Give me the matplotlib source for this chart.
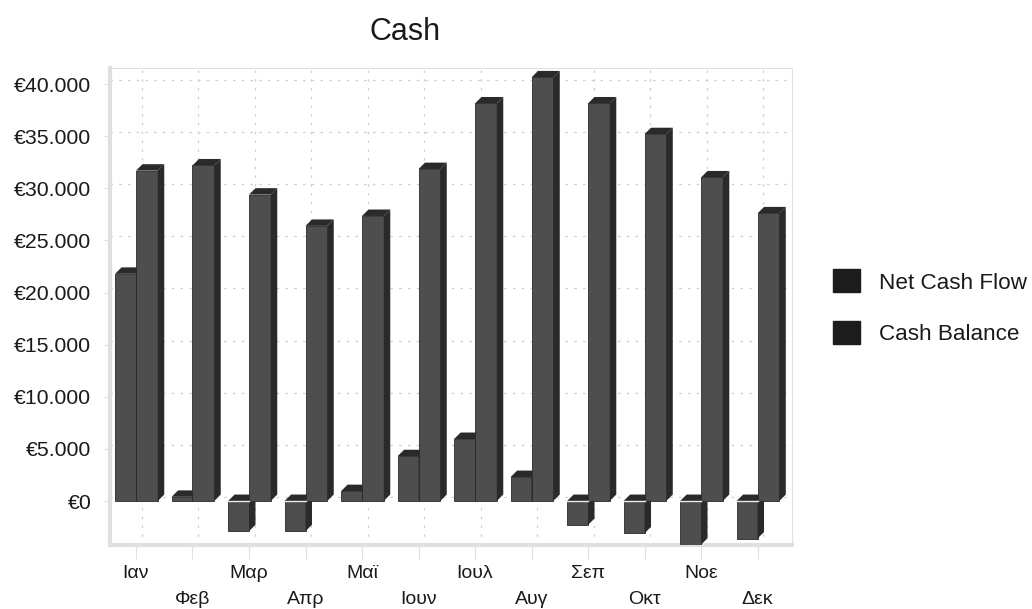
import matplotlib
matplotlib.use("Agg")
from matplotlib import pyplot as plt
from matplotlib.patches import Patch

plt.rcParams['font.family'] = ['Liberation Sans', 'DejaVu Sans']

months = ['Ιαν', 'Φεβ', 'Μαρ', 'Απρ', 'Μαϊ', 'Ιουν', 'Ιουλ', 'Αυγ', 'Σεπ', 'Οκτ', 'Νοε', 'Δεκ']
net_cash_flow = [21800, 400, -2900, -2900, 950, 4300, 5950, 2300, -2300, -3100, -4200, -3600]
cash_balance = [31700, 32200, 29400, 26400, 27350, 31850, 38150, 40650, 38150, 35200, 31050, 27600]
y_ticks = [0, 5000, 10000, 15000, 20000, 25000, 30000, 35000, 40000]
y_tick_labels = ['€0', '€5.000', '€10.000', '€15.000', '€20.000', '€25.000', '€30.000', '€35.000', '€40.000']
series_names = ['Net Cash Flow', 'Cash Balance']

FRONT = '#4e4e4e'
SIDE = '#2a2a2a'
EDGE = '#2a2a2a'
GRID = '#cfcfcf'
WALL = '#e0e0e0'

# one category is 56.5 px, one euro is 0.0104 px
BAR_W = 0.37
DEPTH_X = 0.115
DEPTH_Y = 620


def bar3d(ax, x, value, width):
    # front face, then the side and the top sheared by the depth
    ax.bar(x, value, width, align='edge', color=FRONT, edgecolor=EDGE, linewidth=0.6, zorder=3)
    right = x + width
    ax.fill([right, right + DEPTH_X, right + DEPTH_X, right],
            [0, DEPTH_Y, value + DEPTH_Y, value], color=SIDE, linewidth=0, zorder=3)
    top = max(value, 0)
    ax.fill([x, x + DEPTH_X, right + DEPTH_X, right],
            [top, top + DEPTH_Y, top + DEPTH_Y, top], color=SIDE, linewidth=0, zorder=3)
    if value < 0:
        ax.plot([x, right], [0, 0], color='#ececec', linewidth=1, zorder=4)


fig = plt.figure(figsize=(10.32, 6.09), dpi=100)
ax = fig.add_axes([110 / 1032, 1 - 545 / 609, 682 / 1032, 477 / 609])
ax.set_xlim(-0.46, 11.61)
ax.set_ylim(-4222, 41550)

# gridlines sit on the back wall, so they are shifted by the depth
for v in y_ticks:
    ax.axhline(v + 400, color=GRID, linewidth=0.9, linestyle=(0, (2, 5)), zorder=1)
for i in range(len(months)):
    ax.axvline(i + 0.1, color=GRID, linewidth=0.9, linestyle=(0, (2, 5)), zorder=1)

for i in range(len(months)):
    bar3d(ax, i - BAR_W, net_cash_flow[i], BAR_W)
    bar3d(ax, i, cash_balance[i], BAR_W + 0.015)

ax.set_xticks(range(len(months)))
ax.set_xticklabels(months, fontsize=14, color='#1a1a1a')
ax.set_yticks(y_ticks)
ax.set_yticklabels(y_tick_labels, fontsize=15.3, color='#1a1a1a')
ax.tick_params(axis='y', length=4, color=WALL, pad=9.5)
ax.tick_params(axis='x', length=10, color=WALL)

# every second month goes on a lower row
for i, tick in enumerate(ax.xaxis.get_major_ticks()):
    tick.set_pad(4.5 if i % 2 == 0 else 23)

for name in ['top', 'right']:
    ax.spines[name].set_color(WALL)
    ax.spines[name].set_linewidth(0.8)
for name in ['left', 'bottom']:
    ax.spines[name].set_color(WALL)
    ax.spines[name].set_linewidth(3)

fig.text(405 / 1032, 1 - 32 / 609, 'Cash', fontsize=22, color='#1a1a1a', ha='center', va='center')

handles = [Patch(facecolor='#1c1c1c', edgecolor='#1c1c1c', label=n) for n in series_names]
fig.legend(handles=handles, loc='center left', bbox_to_anchor=(833 / 1032, 1 - 307 / 609),
           frameon=False, fontsize=16.2, handlelength=1.2, handleheight=1.2,
           labelspacing=1.2, handletextpad=0.85, borderpad=0, borderaxespad=0,
           labelcolor='#1a1a1a')

fig.savefig('out.png', dpi=100)
